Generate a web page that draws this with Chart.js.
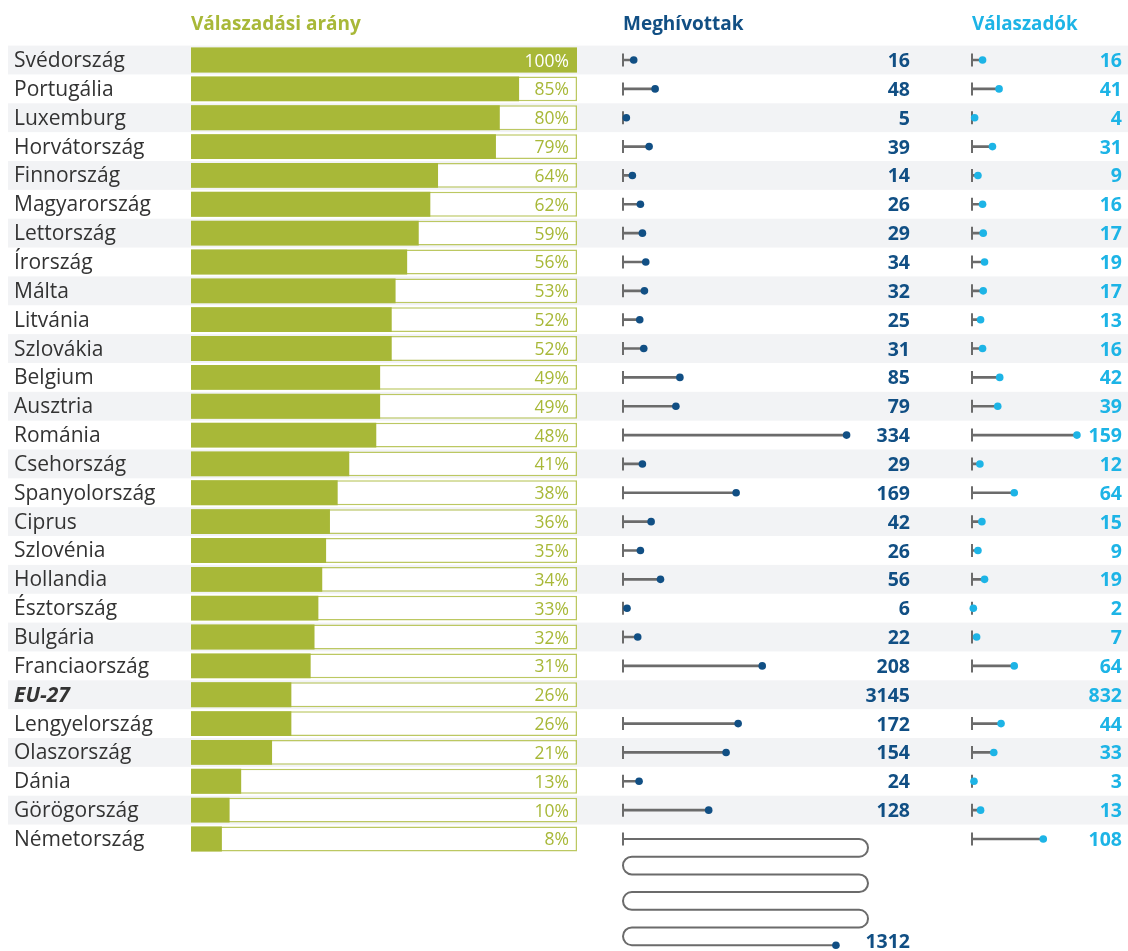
<!DOCTYPE html>
<html><head><meta charset="utf-8">
<script src="https://cdn.jsdelivr.net/npm/chart.js@4.4.0/dist/chart.umd.min.js"></script>
<style>
html,body{margin:0;padding:0;background:#fff;}
#wrap{position:relative;width:1128px;height:951px;overflow:hidden;}
canvas{position:absolute;top:0;}
</style></head><body>
<div id="wrap">
<canvas id="c1" width="600" height="951" style="left:0px"></canvas>
<canvas id="c2" width="350" height="951" style="left:600px"></canvas>
<canvas id="c3" width="178" height="951" style="left:950px"></canvas>
</div>
<script>
const categories = ['Svédország','Portugália','Luxemburg','Horvátország','Finnország','Magyarország','Lettország','Írország','Málta','Litvánia','Szlovákia','Belgium','Ausztria','Románia','Csehország','Spanyolország','Ciprus','Szlovénia','Hollandia','Észtország','Bulgária','Franciaország','EU-27','Lengyelország','Olaszország','Dánia','Görögország','Németország'];
const responseRates = [100,85,80,79,64,62,59,56,53,52,52,49,49,48,41,38,36,35,34,33,32,31,26,26,21,13,10,8];
const invited = [16,48,5,39,14,26,29,34,32,25,31,85,79,334,29,169,42,26,56,6,22,208,3145,172,154,24,128,1312];
const responded = [16,41,4,31,9,16,17,19,17,13,16,42,39,159,12,64,15,9,19,2,7,64,832,44,33,3,13,108];
const totalRow = 'EU-27';
const titles = ['Válaszadási arány','Meghívottak','Válaszadók'];

const GREEN = '#a8b838', GREEN_BORDER = '#bcc862', DARK_BLUE = '#114f84', LIGHT_BLUE = '#1db4e6', STEM = '#6b6b6b', STRIPE = '#f2f3f5';
const snakeRowUnits = 191;

Chart.defaults.font.family = "'Open Sans', sans-serif";
Chart.defaults.animation = false;

const totalIdx = categories.indexOf(totalRow);

function stripePlugin(x0) {
  return {
    id: 'stripes',
    beforeDraw(chart) {
      const ctx = chart.ctx, ys = chart.scales.y;
      const h = ys.getPixelForValue(1) - ys.getPixelForValue(0);
      ctx.save();
      ctx.fillStyle = STRIPE;
      categories.forEach((c, i) => {
        if (i % 2 === 0) {
          const yc = ys.getPixelForValue(i);
          ctx.fillRect(x0, yc - h / 2, chart.width - x0, h);
        }
      });
      ctx.restore();
    }
  };
}

const layoutPad = (l, r) => ({ left: l, right: r, top: 0, bottom: 97.6 });
const titleOpts = (text, color) => ({
  display: true, text, align: 'start', fullSize: false, color,
  font: { size: 19, weight: 'bold' }, padding: { top: 13, bottom: 9.8 }
});

// ---------- Chart 1: response rate ----------
const pctPlugin = {
  id: 'pct',
  afterDatasetsDraw(chart) {
    const ctx = chart.ctx, xs = chart.scales.x, ys = chart.scales.y;
    ctx.save();
    ctx.font = "17.5px 'Open Sans', sans-serif";
    ctx.textAlign = 'right';
    ctx.textBaseline = 'middle';
    responseRates.forEach((v, i) => {
      ctx.fillStyle = v >= 100 ? '#ffffff' : GREEN;
      ctx.fillText(v + '%', xs.getPixelForValue(100) - 8, ys.getPixelForValue(i) + 1.5);
    });
    ctx.restore();
  }
};

new Chart(document.getElementById('c1'), {
  type: 'bar',
  data: {
    labels: categories,
    datasets: [
      { data: categories.map(() => 100), backgroundColor: '#ffffff', borderColor: GREEN_BORDER, borderWidth: 1.5, borderSkipped: false, order: 1, grouped: false, barPercentage: 0.86, categoryPercentage: 1 },
      { data: responseRates, backgroundColor: GREEN, borderWidth: 0, order: 0, grouped: false, barPercentage: 0.86, categoryPercentage: 1 }
    ]
  },
  options: {
    indexAxis: 'y', responsive: false, events: [],
    layout: { padding: layoutPad(14, 23) },
    plugins: { legend: { display: false }, tooltip: { enabled: false }, title: titleOpts(titles[0], GREEN) },
    scales: {
      x: { display: false, min: 0, max: 100 },
      y: {
        grid: { display: false }, border: { display: false },
        afterFit(s) { s.width = 177; },
        ticks: {
          autoSkip: false, crossAlign: 'far', padding: 0, color: '#333333', labelOffset: 1,
          font: (ctx) => ({ size: 21, weight: ctx.index === totalIdx ? 'bold' : 'normal', style: ctx.index === totalIdx ? 'italic' : 'normal' })
        }
      }
    }
  },
  plugins: [stripePlugin(8), pctPlugin]
});

// ---------- Lollipop charts ----------
function makeLollipop(id, values, xMax, color, title, padL, padR, labelRight) {
  const drawable = (v, i) => i !== totalIdx && v != null && v <= xMax;
  const labelPlugin = {
    id: 'vals',
    afterDatasetsDraw(chart) {
      const ctx = chart.ctx, xs = chart.scales.x, ys = chart.scales.y;
      const labelX = chart.width - labelRight;
      ctx.save();
      ctx.font = "bold 19.5px 'Open Sans', sans-serif";
      ctx.textAlign = 'right';
      ctx.textBaseline = 'middle';
      values.forEach((v, i) => {
        const yc = ys.getPixelForValue(i);
        if (i !== totalIdx && v > xMax) {
          // overflowing value: serpentine line
          const xL = xs.getPixelForValue(0), xR = xs.getPixelForValue(xMax);
          const gap = 17.7, r = gap / 2;
          const rows = Math.ceil(v / snakeRowUnits);
          const rem = v - (rows - 1) * snakeRowUnits;
          ctx.save();
          ctx.strokeStyle = STEM; ctx.lineWidth = 2;
          ctx.beginPath(); ctx.moveTo(xL, yc);
          let endX = xL, y = yc;
          for (let k = 0; k < rows; k++) {
            y = yc + k * gap;
            const ltr = k % 2 === 0;
            if (k === rows - 1) {
              endX = ltr ? xs.getPixelForValue(rem / snakeRowUnits * xMax) : xs.getPixelForValue(xMax - rem / snakeRowUnits * xMax);
              ctx.lineTo(endX, y);
            } else if (ltr) {
              ctx.lineTo(xR - r, y);
              ctx.arc(xR - r, y + r, r, -Math.PI / 2, Math.PI / 2, false);
            } else {
              ctx.lineTo(xL + r, y);
              ctx.arc(xL + r, y + r, r, -Math.PI / 2, Math.PI / 2, true);
            }
          }
          ctx.stroke();
          ctx.fillStyle = color;
          ctx.beginPath(); ctx.arc(endX, y, 3.8, 0, Math.PI * 2); ctx.fill();
          ctx.restore();
          ctx.fillStyle = color;
          ctx.fillText(String(v), labelX, y - 3);
        } else {
          ctx.fillStyle = color;
          ctx.fillText(String(v), labelX, yc + 1.5);
        }
      });
      ctx.restore();
    }
  };
  return new Chart(document.getElementById(id), {
    type: 'bar',
    data: {
      labels: categories,
      datasets: [
        { type: 'bar', data: values.map((v, i) => drawable(v, i) ? v : null), backgroundColor: STEM, barThickness: 2, borderWidth: 0, order: 2 },
        { type: 'line', indexAxis: 'y', showLine: false, clip: false, order: 1,
          data: categories.map((c, i) => ({ x: 0, y: c })).filter((p, i) => i !== totalIdx),
          pointStyle: 'line', pointRotation: 90, pointRadius: 6.5, pointBorderWidth: 2, pointBorderColor: STEM, pointBackgroundColor: STEM },
        { type: 'line', indexAxis: 'y', showLine: false, clip: false, order: 0,
          data: values.map((v, i) => ({ x: v, y: categories[i] })).filter((p, i) => drawable(values[i], i)),
          pointRadius: 3.8, pointBorderWidth: 0, pointBackgroundColor: color }
      ]
    },
    options: {
      indexAxis: 'y', responsive: false, events: [],
      layout: { padding: layoutPad(padL, padR) },
      plugins: { legend: { display: false }, tooltip: { enabled: false }, title: titleOpts(title, color) },
      scales: {
        x: { display: false, min: 0, max: xMax },
        y: { type: 'category', display: false, offset: true }
      }
    },
    plugins: [stripePlugin(0), labelPlugin]
  });
}

makeLollipop('c2', invited, 366, DARK_BLUE, titles[1], 23, 82, 40);
makeLollipop('c3', responded, 160, LIGHT_BLUE, titles[2], 22, 50.4, 6);
</script>
</body></html>
